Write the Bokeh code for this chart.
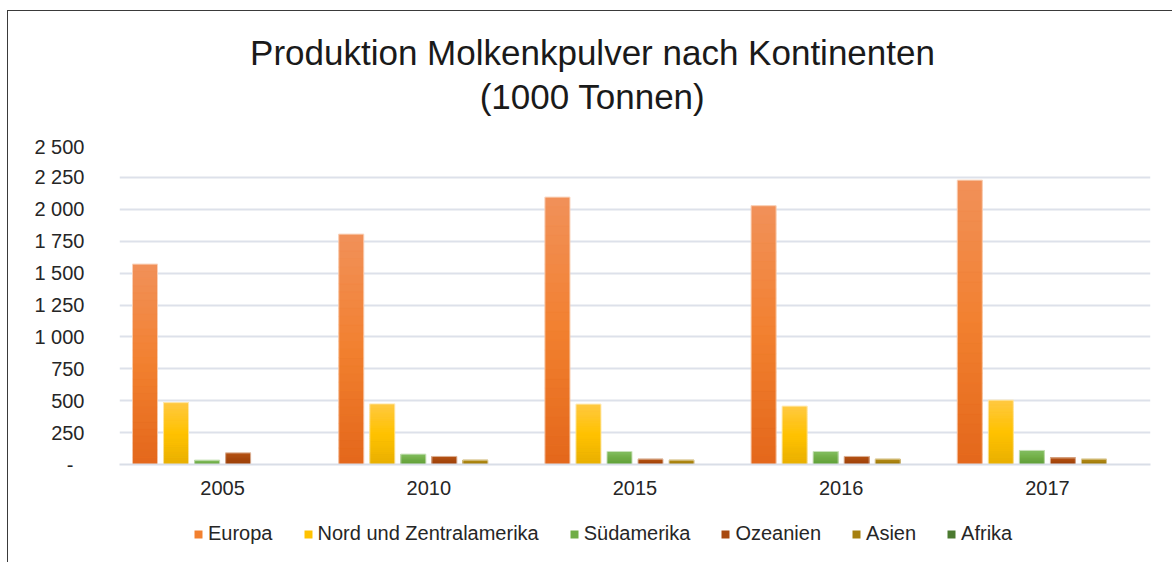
from bokeh.plotting import figure
from bokeh.models import (ColumnDataSource, FactorRange, FixedTicker, Legend, LegendItem, Range1d)
from bokeh.layouts import column
from bokeh.core.properties import value
from bokeh.transform import dodge
from bokeh.embed import file_html
from bokeh.resources import INLINE

# ---- data ----
years = ["2005", "2010", "2015", "2016", "2017"]
series_names = ["Europa", "Nord und Zentralamerika", "Südamerika", "Ozeanien", "Asien", "Afrika"]
europa = [1570, 1805, 2095, 2028, 2228]
nord_zentralamerika = [485, 475, 473, 457, 504]
suedamerika = [33, 81, 102, 102, 110]
ozeanien = [91, 63, 42, 63, 52]
asien = [0, 34, 34, 42, 42]
afrika = [0, 0, 0, 0, 0]
y_ticks = [0, 250, 500, 750, 1000, 1250, 1500, 1750, 2000, 2250, 2500]
y_tick_labels = ["-\u00a0\u00a0", "250", "500", "750", "1 000", "1 250", "1 500", "1 750", "2 000", "2 250", "2 500"]
title_lines = ["Produktion Molkenkpulver nach Kontinenten", "(1000 Tonnen)"]

values = [europa, nord_zentralamerika, suedamerika, ozeanien, asien, afrika]
# (top, mid, bottom) gradient colours
colors = [
    ("#F1915A", "#F2802F", "#E3671B"),
    ("#FFC943", "#FFC200", "#E8AF00"),
    ("#84BE60", "#70AD47", "#5F9E38"),
    ("#B65518", "#A8490F", "#9A3F09"),
    ("#B58E1C", "#A6800F", "#987306"),
    ("#568A38", "#4B7A30", "#416B28"),
]

FONT = "Liberation Sans"
TXT = "#262626"
W = 1164
LEFT = 111
RIGHT = 22

def blank(fig):
    fig.outline_line_color = None
    fig.background_fill_color = "white"
    fig.border_fill_color = "white"
    fig.xgrid.grid_line_color = None
    fig.ygrid.grid_line_color = None

# ---------- title panel (frame aligned with the chart frame; x in canvas pixels) ----------
pt = figure(width=W, height=124, x_range=Range1d(LEFT, W - RIGHT), y_range=Range1d(124, 0),
            x_axis_type=None, y_axis_type=None, output_backend="svg", toolbar_location=None,
            min_border=0)
blank(pt)
pt.text(x=[584, 584], y=[41, 85], text=title_lines, text_align="center", text_baseline="middle",
        text_font=value(FONT), text_font_size="35px", text_color="#1a1a1a")

# ---------- main chart ----------
p = figure(x_range=FactorRange(*years, range_padding=0), y_range=(0, 2500),
           width=W, height=377, output_backend="svg", toolbar_location=None,
           min_border_left=LEFT, min_border_right=RIGHT, min_border_top=10, min_border_bottom=48)
blank(p)

pitch = 0.1505
bw = 0.121
N = 28

def hex2rgb(h):
    h = h.lstrip("#")
    return tuple(int(h[i:i + 2], 16) for i in (0, 2, 4))

def lerp(c1, c2, t):
    a, b = hex2rgb(c1), hex2rgb(c2)
    return "#%02x%02x%02x" % tuple(int(round(a[i] + (b[i] - a[i]) * t)) for i in range(3))

for i, (name, vals, (ctop, cmid, cbot)) in enumerate(zip(series_names, values, colors)):
    off = (i - 2.5) * pitch
    p.vbar(x=dodge("x", off, range=p.x_range), top="top", width=bw,
           source=ColumnDataSource(dict(x=years, top=vals)), fill_color=cmid, line_color=None)
    xs, bots, tops, cols = [], [], [], []
    for k in range(N):
        t = (k + 0.5) / N  # 0 bottom -> 1 top
        c = lerp(cbot, cmid, t / 0.5) if t < 0.5 else lerp(cmid, ctop, (t - 0.5) / 0.5)
        for yr, v in zip(years, vals):
            if v <= 0:
                continue
            xs.append(yr)
            bots.append(v * k / N)
            tops.append(v * (k + 1) / N)
            cols.append(c)
    if xs:
        p.vbar(x=dodge("x", off, range=p.x_range), bottom="bottom", top="top", width=bw,
               source=ColumnDataSource(dict(x=xs, bottom=bots, top=tops, c=cols)),
               fill_color="c", line_color="c", line_width=0.6)
        p.vbar(x=dodge("x", off, range=p.x_range), top="top", width=bw,
               source=ColumnDataSource(dict(x=[y for y, v in zip(years, vals) if v > 0],
                                            top=[v for v in vals if v > 0])),
               fill_color=None, line_color="white", line_alpha=0.55, line_width=1)

p.yaxis.ticker = FixedTicker(ticks=y_ticks)
p.yaxis.major_label_overrides = {t: l for t, l in zip(y_ticks, y_tick_labels)}
p.yaxis.axis_line_color = None
p.yaxis.major_tick_line_color = None
p.yaxis.minor_tick_line_color = None
p.yaxis.major_tick_out = 0
p.yaxis.major_label_standoff = 35
p.yaxis.major_label_text_font = FONT
p.yaxis.major_label_text_font_size = "20px"
p.yaxis.major_label_text_color = TXT

p.xaxis.axis_line_color = "#D9DEE7"
p.xaxis.axis_line_width = 2
p.xaxis.major_tick_line_color = None
p.xaxis.minor_tick_line_color = None
p.xaxis.major_tick_out = 0
p.xaxis.major_label_standoff = 16
p.xaxis.major_label_text_font = FONT
p.xaxis.major_label_text_font_size = "20px"
p.xaxis.major_label_text_color = TXT

p.ygrid.grid_line_color = "#DDE1EA"
p.ygrid.grid_line_width = 2

# ---------- legend panel ----------
pl = figure(width=W, height=52, x_range=Range1d(0, 1), y_range=Range1d(0, 1),
            x_axis_type=None, y_axis_type=None, output_backend="svg", toolbar_location=None,
            min_border=0)
blank(pl)
items = []
for name, (ctop, cmid, cbot) in zip(series_names, colors):
    # proxy glyph outside the visible range, only used for the legend swatch
    r = pl.vbar(x=[-10], top=[-10], bottom=[-11], width=0.1, fill_color=cmid, line_color=None)
    items.append(LegendItem(label=name, renderers=[r]))
legend = Legend(items=items, orientation="horizontal", location=(74, 19),
                glyph_width=10, glyph_height=10, label_standoff=5, spacing=30,
                padding=0, margin=0, border_line_color=None, background_fill_alpha=0,
                label_text_font=FONT, label_text_font_size="20px", label_text_color=TXT)
pl.add_layout(legend, "center")

layout = column(pt, p, pl, spacing=0,
                styles={"margin-left": "7px", "margin-top": "10px",
                        "border-top": "1px solid #3a3a3a", "border-left": "1px solid #3a3a3a"})

open("out.html", "w").write(file_html(layout, INLINE))
